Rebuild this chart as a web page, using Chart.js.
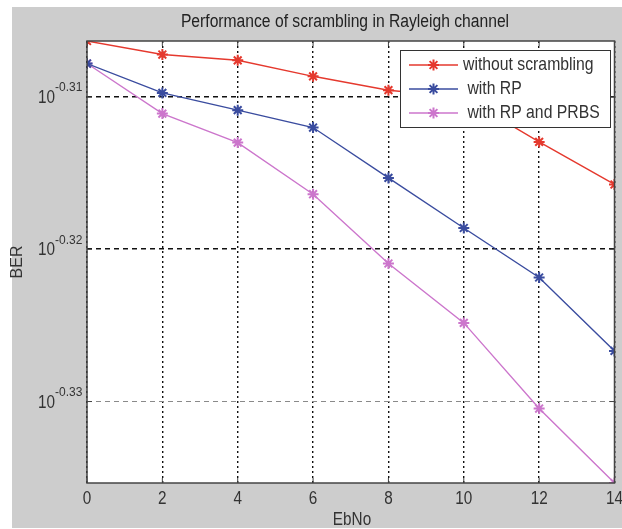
<!DOCTYPE html>
<html>
<head>
<meta charset="utf-8">
<script src="https://cdn.jsdelivr.net/npm/chart.js@4.4.1/dist/chart.umd.min.js"></script>
<style>
  html, body { margin: 0; padding: 0; background: #fff; }
  #berChart { display: block; }
</style>
</head>
<body>
<canvas id="berChart" width="622" height="529"></canvas>

<script>
// values (BER, log axis)
var ebno = [0, 2, 4, 6, 8, 10, 12, 14];
var berNoScrambling = [0.49394, 0.49293, 0.49250, 0.49131, 0.49028, 0.48975, 0.48646, 0.48334];
var berRP = [0.49226, 0.49008, 0.48880, 0.48752, 0.48382, 0.48017, 0.47659, 0.47133];
var berRPPRBS = [0.49226, 0.48855, 0.48641, 0.48263, 0.47760, 0.47333, 0.46724, 0.46201];
var seriesLabels = ['without scrambling', ' with RP', ' with RP and PRBS'];
var seriesColors = ['#e5392e', '#3a4c9f', '#cc76cc'];
var yTickExponents = [-0.33, -0.32, -0.31];
var xTickValues = [0, 2, 4, 6, 8, 10, 12, 14];

var FONT = "'Liberation Sans', Arial, sans-serif";
var TEXT = '#333';

// the source figure is squeezed sideways, so text is drawn narrowed
function squeezedText(c, text, x, y, sx, font, align) {
    c.save();
    c.translate(x, y);
    c.scale(sx, 1);
    c.font = font;
    c.textAlign = align;
    c.textBaseline = 'middle';
    c.fillText(text, 0, 0);
    c.restore();
}

document.addEventListener('DOMContentLoaded', function () {
    var ctx = document.getElementById('berChart').getContext('2d');

    var allSeries = [berNoScrambling, berRP, berRPPRBS];
    var allValues = [].concat(berNoScrambling, berRP, berRPPRBS);

    var datasets = allSeries.map(function (values, i) {
        return {
            label: seriesLabels[i],
            data: ebno.map(function (x, j) { return { x: x, y: values[j] }; }),
            borderColor: seriesColors[i],
            backgroundColor: seriesColors[i],
            borderWidth: 1.4,
            pointStyle: 'star',
            pointRadius: 5.5,
            pointBorderWidth: 2,
            pointBorderColor: seriesColors[i],
            tension: 0
        };
    });

    // grey figure background, title, axis labels, box, legend
    var matlabLook = {
        id: 'matlabLook',
        beforeDraw: function (chart) {
            var c = chart.ctx, a = chart.chartArea;
            c.save();
            c.fillStyle = '#fff';
            c.fillRect(0, 0, chart.width, chart.height);
            c.fillStyle = '#cdcdcd';
            c.fillRect(12, 7, chart.width - 12, 521);
            c.fillStyle = '#fff';
            c.fillRect(a.left, a.top, a.right - a.left, a.bottom - a.top);
            c.restore();
        },
        afterDatasetsDraw: function (chart) {
            var c = chart.ctx, a = chart.chartArea;
            var xs = chart.scales.x, ys = chart.scales.y;
            c.save();
            c.strokeStyle = '#444';
            c.lineWidth = 1.5;
            c.strokeRect(a.left, a.top, a.right - a.left, a.bottom - a.top);
            // inward tick marks
            c.lineWidth = 1;
            c.beginPath();
            xTickValues.forEach(function (v) {
                var px = xs.getPixelForValue(v);
                c.moveTo(px, a.bottom); c.lineTo(px, a.bottom - 5);
                c.moveTo(px, a.top); c.lineTo(px, a.top + 5);
            });
            yTickExponents.forEach(function (e) {
                var py = ys.getPixelForValue(Math.pow(10, e));
                c.moveTo(a.left, py); c.lineTo(a.left + 5, py);
                c.moveTo(a.right, py); c.lineTo(a.right - 5, py);
            });
            c.stroke();
            c.restore();
        },
        afterDraw: function (chart) {
            var c = chart.ctx, a = chart.chartArea;
            var xs = chart.scales.x, ys = chart.scales.y;
            c.save();
            c.fillStyle = TEXT;

            // x tick labels
            xTickValues.forEach(function (v) {
                squeezedText(c, String(v), xs.getPixelForValue(v), a.bottom + 16, 0.85, '18px ' + FONT, 'center');
            });

            // y tick labels 10^e
            yTickExponents.forEach(function (e) {
                var py = ys.getPixelForValue(Math.pow(10, e));
                squeezedText(c, '10', 55, py + 1, 0.85, '18px ' + FONT, 'right');
                squeezedText(c, e.toFixed(2), 55, py - 9, 1, '12px ' + FONT, 'left');
            });

            // title and axis titles
            c.fillStyle = '#222';
            squeezedText(c, 'Performance of scrambling in Rayleigh channel', 345, 22, 0.87, '18px ' + FONT, 'center');
            c.fillStyle = TEXT;
            squeezedText(c, 'EbNo', 352, 520, 0.85, '18px ' + FONT, 'center');
            c.save();
            c.translate(18, 262);
            c.rotate(-Math.PI / 2);
            c.font = '16px ' + FONT;
            c.textAlign = 'center';
            c.textBaseline = 'middle';
            c.fillText('BER', 0, 0);
            c.restore();

            // legend box
            var lx = 400, ly = 50, lw = 210, lh = 77;
            c.fillStyle = '#fff';
            c.fillRect(lx, ly, lw, lh);
            c.strokeStyle = '#333';
            c.lineWidth = 1;
            c.strokeRect(lx + 0.5, ly + 0.5, lw, lh);
            var rows = [65, 89, 113];
            chart.data.datasets.forEach(function (ds, i) {
                var y = rows[i];
                c.strokeStyle = ds.borderColor;
                c.lineWidth = 1.4;
                c.beginPath();
                c.moveTo(409, y); c.lineTo(458, y);
                c.stroke();
                c.lineWidth = 2;
                Chart.helpers.drawPoint(c, {
                    pointStyle: 'star', radius: 5.5, rotation: 0, borderWidth: 2
                }, 433.5, y);
                c.fillStyle = TEXT;
                squeezedText(c, ds.label, 463, y, 0.83, '19px ' + FONT, 'left');
            });
            c.restore();
        }
    };

    var config = {
        type: 'line',
        data: { datasets: datasets },
        options: {
            responsive: false,
            animation: false,
            layout: {
                padding: { left: 87, top: 41, right: 5, bottom: 46 }
            },
            scales: {
                x: {
                    type: 'linear',
                    min: 0,
                    max: 14,
                    ticks: { display: false, stepSize: 2 },
                    grid: { color: '#111', lineWidth: 1.4, drawTicks: false },
                    border: { display: false, dash: [2, 3] }
                },
                y: {
                    type: 'logarithmic',
                    bounds: 'data',
                    min: Math.min.apply(null, allValues),
                    max: Math.max.apply(null, allValues),
                    afterBuildTicks: function (scale) {
                        scale.ticks = yTickExponents.map(function (e) {
                            return { value: Math.pow(10, e) };
                        });
                    },
                    ticks: { display: false },
                    grid: {
                        drawTicks: false,
                        color: function (context) {
                            return context.index === 0 ? '#8a8a8a' : '#111';
                        },
                        lineWidth: function (context) {
                            return context.index === 0 ? 1 : 1.5;
                        }
                    },
                    border: { display: false, dash: [5, 4] }
                }
            },
            plugins: {
                legend: { display: false },
                title: { display: false },
                tooltip: { enabled: false }
            }
        },
        plugins: [matlabLook]
    };

    new Chart(ctx, config);
});
</script>
</body>
</html>
